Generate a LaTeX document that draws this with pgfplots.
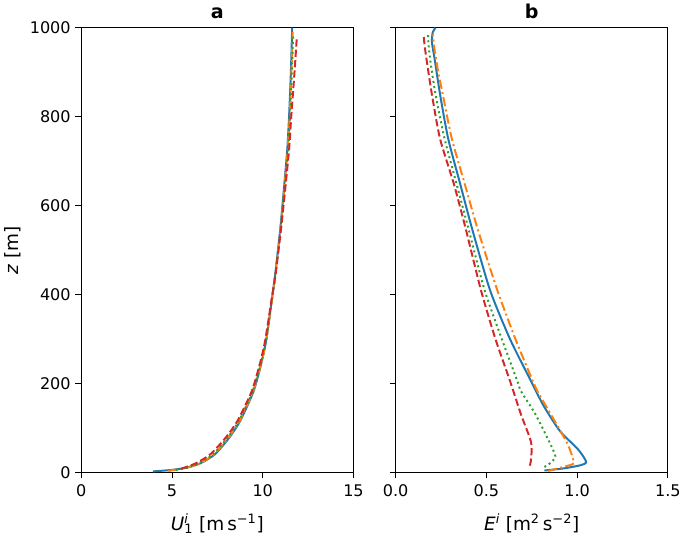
\documentclass[border=0pt]{standalone}
\usepackage{fontspec}
\setmainfont{DejaVu Sans}
\usepackage{pgfplots}
\pgfplotsset{compat=1.18}
\definecolor{tblue}{HTML}{1F77B4}
\definecolor{torange}{HTML}{FF7F0E}
\definecolor{tgreen}{HTML}{2CA02C}
\definecolor{tred}{HTML}{D62728}
\pgfplotsset{
  myax/.style={
    scale only axis, width=207pt, height=338pt,
    ymin=0, ymax=1000,
    ytick={0,200,400,600,800,1000},
    tick align=outside, xtick pos=bottom, ytick pos=left,
    major tick length=4.5pt,
    tick style={black, line width=0.6pt},
    axis line style={line width=0.6pt},
    every axis plot/.append style={line width=1.5pt, smooth, tension=0.4},
    /pgf/number format/assume math mode=true,
    /pgf/number format/1000 sep={},
    tick label style={font=\fontsize{12.2}{14}\selectfont},
    xticklabel style={yshift=-1.5pt},
    label style={font=\fontsize{14}{16}\selectfont},
    title style={font=\fontsize{14.5}{16}\selectfont\bfseries, yshift=-3pt},
  },
  ps1/.style={tblue, solid},
  ps2/.style={torange, dash pattern=on 7pt off 2.5pt on 1.5pt off 2.5pt},
  ps3/.style={tgreen, dash pattern=on 1.5pt off 2.4pt},
  ps4/.style={tred, dash pattern=on 5.5pt off 2.4pt},
}
\begin{document}
\begin{tikzpicture}
\begin{axis}[myax,
  xmin=0, xmax=15, xtick={0,5,10,15},
  title={a},
  xlabel={\textit{U}\rlap{\textsuperscript{\textit{i}}}\textsubscript{1}\ [m\,s\textsuperscript{−1}]},
  ylabel={\textit{z} [m]},
  xlabel style={yshift=-6pt},
  ylabel style={yshift=0pt},
]
\addplot[ps1] coordinates {(3.95,2) (4.9,5) (5.75,10) (6.55,20) (7.35,40) (8.1,75) (8.75,115) (9.5,183) (9.95,250) (10.2,300) (10.5,387) (10.7,450) (10.96,545) (11.15,630) (11.35,726) (11.45,800) (11.55,900) (11.62,1000)};
\addplot[ps2] coordinates {(4.8,3) (5.2,6) (5.8,10) (6.55,20) (7.3,40) (8.05,75) (8.72,115) (9.48,183) (9.95,250) (10.2,300) (10.5,387) (10.7,450) (10.97,545) (11.17,630) (11.37,726) (11.48,800) (11.58,900) (11.65,990)};
\addplot[ps3] coordinates {(5.2,5) (5.7,9) (6.45,20) (7.25,40) (8.0,75) (8.68,115) (9.45,183) (9.93,250) (10.2,300) (10.5,387) (10.72,450) (10.98,545) (11.18,630) (11.4,726) (11.5,800) (11.6,900) (11.68,985)};
\addplot[ps4] coordinates {(5.5,8) (6.3,20) (7.1,40) (7.9,75) (8.6,115) (9.4,183) (9.88,250) (10.15,300) (10.48,387) (10.72,450) (11.0,545) (11.22,630) (11.45,726) (11.57,800) (11.75,900) (11.88,980)};
\end{axis}
\begin{axis}[myax, at={(239pt,0)},
  xmin=0, xmax=1.5, xtick={0,0.5,1.0,1.5},
  xticklabel style={/pgf/number format/.cd, fixed, fixed zerofill, precision=1},
  yticklabels={},
  title={b},
  xlabel={\textit{E}\textsuperscript{\textit{i}}\ [m\textsuperscript{2}\,s\textsuperscript{−2}]},
  xlabel style={yshift=-6pt},
]
\addplot[ps1] coordinates {(0.82,4) (0.93,9) (1.02,16) (1.05,22) (1.035,35) (1.0,54) (0.905,93) (0.815,150) (0.745,206) (0.63,300) (0.52,410) (0.42,550) (0.355,650) (0.29,750) (0.245,850) (0.215,930) (0.20,968) (0.205,990) (0.22,1000)};
\addplot[ps2] coordinates {(0.84,3) (0.975,18) (0.98,25) (0.97,40) (0.945,66) (0.87,120) (0.78,183) (0.755,206) (0.66,300) (0.56,410) (0.45,550) (0.38,650) (0.31,750) (0.26,850) (0.235,900) (0.215,950) (0.205,985)};
\addplot[ps3] coordinates {(0.82,12) (0.85,20) (0.88,36) (0.845,70) (0.77,131) (0.69,183) (0.67,206) (0.585,300) (0.49,410) (0.40,550) (0.335,650) (0.27,750) (0.22,850) (0.19,930) (0.18,970) (0.18,990)};
\addplot[ps4] coordinates {(0.74,15) (0.745,25) (0.75,54) (0.74,77) (0.69,131) (0.63,206) (0.55,300) (0.47,410) (0.385,550) (0.32,650) (0.245,750) (0.20,850) (0.17,930) (0.16,960) (0.155,980)};
\end{axis}
\end{tikzpicture}
\end{document}
